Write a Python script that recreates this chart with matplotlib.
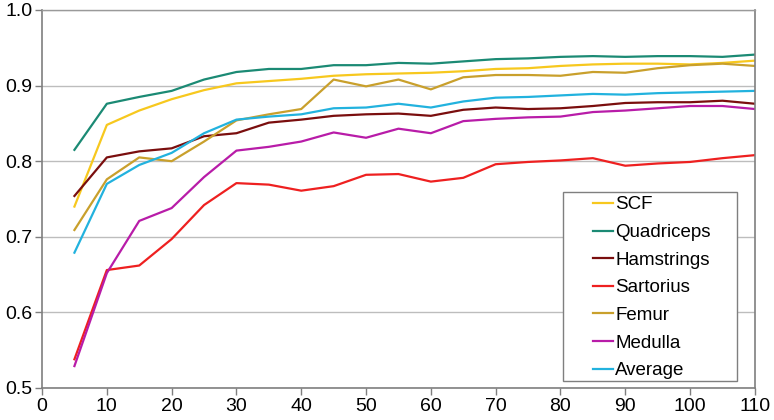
import matplotlib
matplotlib.use("Agg")
import matplotlib.pyplot as plt
from matplotlib.patches import Rectangle

# data
x = [5, 10, 15, 20, 25, 30, 35, 40, 45, 50, 55, 60, 65, 70, 75, 80, 85, 90, 95, 100, 105, 110]

scf = [0.740, 0.848, 0.867, 0.882, 0.894, 0.903, 0.906, 0.909, 0.913, 0.915, 0.916,
       0.917, 0.919, 0.922, 0.923, 0.926, 0.928, 0.929, 0.929, 0.928, 0.930, 0.933]
quadriceps = [0.815, 0.876, 0.885, 0.893, 0.908, 0.918, 0.922, 0.922, 0.927, 0.927, 0.930,
              0.929, 0.932, 0.935, 0.936, 0.938, 0.939, 0.938, 0.939, 0.939, 0.938, 0.941]
hamstrings = [0.754, 0.805, 0.813, 0.817, 0.833, 0.837, 0.851, 0.855, 0.860, 0.862, 0.863,
              0.860, 0.868, 0.871, 0.869, 0.870, 0.873, 0.877, 0.878, 0.878, 0.880, 0.876]
sartorius = [0.538, 0.656, 0.662, 0.697, 0.742, 0.771, 0.769, 0.761, 0.767, 0.782, 0.783,
             0.773, 0.778, 0.796, 0.799, 0.801, 0.804, 0.794, 0.797, 0.799, 0.804, 0.808]
femur = [0.709, 0.776, 0.805, 0.800, 0.826, 0.854, 0.862, 0.869, 0.908, 0.899, 0.908,
         0.895, 0.911, 0.914, 0.914, 0.913, 0.918, 0.917, 0.923, 0.927, 0.929, 0.926]
medulla = [0.529, 0.652, 0.721, 0.738, 0.779, 0.814, 0.819, 0.826, 0.838, 0.831, 0.843,
           0.837, 0.853, 0.856, 0.858, 0.859, 0.865, 0.867, 0.870, 0.873, 0.873, 0.869]
average = [0.679, 0.770, 0.795, 0.811, 0.837, 0.855, 0.859, 0.862, 0.870, 0.871, 0.876,
           0.871, 0.879, 0.884, 0.885, 0.887, 0.889, 0.888, 0.890, 0.891, 0.892, 0.893]

series = [
    ("SCF", scf, "#F7C81E"),
    ("Quadriceps", quadriceps, "#1B8A74"),
    ("Hamstrings", hamstrings, "#7A0E0E"),
    ("Sartorius", sartorius, "#EE2020"),
    ("Femur", femur, "#C9A02C"),
    ("Medulla", medulla, "#B81CA8"),
    ("Average", average, "#22B2DE"),
]

plt.rcParams["font.family"] = ["Liberation Sans", "DejaVu Sans"]

fig = plt.figure(figsize=(7.74, 4.2), dpi=100)
ax = fig.add_axes([0.0543, 0.0762, 0.921, 0.9])

for name, vals, col in series:
    ax.plot(x, vals, color=col, lw=1.6, label=name)

ax.set_xlim(0, 110)
ax.set_ylim(0.5, 1.0)
ax.set_xticks(range(0, 111, 10))
ax.set_yticks([0.5, 0.6, 0.7, 0.8, 0.9, 1.0])
ax.set_yticklabels(["0.5", "0.6", "0.7", "0.8", "0.9", "1.0"])
ax.yaxis.grid(True, color="#BDBDBD", lw=1)
ax.set_axisbelow(True)

for s in ["left", "bottom", "right"]:
    ax.spines[s].set_color("#7F7F7F")
    ax.spines[s].set_linewidth(1.2)
ax.spines["top"].set_color("#9A9A9A")
ax.spines["top"].set_linewidth(1.0)

ax.tick_params(axis="both", direction="out", length=5, width=1, color="#7F7F7F",
               labelsize=14, pad=2)

# legend box drawn separately so the frame can match the original
box = Rectangle((0.731, 0.0185), 0.244, 0.50, transform=ax.transAxes,
                facecolor="white", edgecolor="#7F7F7F", lw=1, zorder=5)
ax.add_patch(box)
leg = ax.legend(loc="upper left", bbox_to_anchor=(0.773, 0.507), frameon=False,
                fontsize=13.5, handlelength=1.07, handletextpad=0.1,
                labelspacing=0.56, borderpad=0, borderaxespad=0)
leg.set_zorder(6)

fig.savefig("out.png", dpi=100)
